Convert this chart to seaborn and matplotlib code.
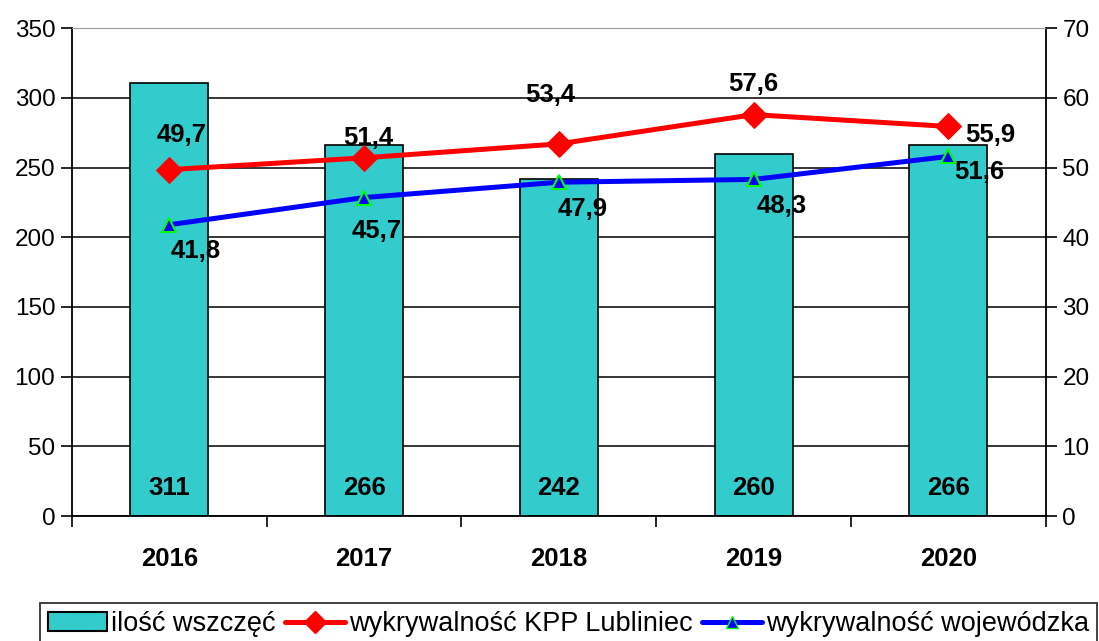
import numpy as np
import pandas as pd
import seaborn as sns
import matplotlib
import matplotlib.pyplot as plt
from matplotlib.ticker import FixedLocator

matplotlib.use("Agg")

years = ['2016', '2017', '2018', '2019', '2020']
wszczecia = [311, 266, 242, 260, 266]
kpp_lubliniec = [49.7, 51.4, 53.4, 57.6, 55.9]
wojewodzka = [41.8, 45.7, 47.9, 48.3, 51.6]

sns.set_style("white")
plt.rcParams['font.family'] = ['Liberation Sans', 'DejaVu Sans']
plt.rcParams['text.color'] = 'black'
plt.rcParams['xtick.color'] = 'black'
plt.rcParams['ytick.color'] = 'black'

fig = plt.figure(figsize=(10.99, 6.41), dpi=100)
ax = fig.add_axes([0.0655, 0.195, 0.886, 0.761])

df = pd.DataFrame({'rok': years, 'ilosc': wszczecia})
sns.barplot(data=df, x='rok', y='ilosc', ax=ax, color='#33CCCC', saturation=1,
            width=0.40, edgecolor='black', linewidth=1.2, zorder=2)

ax.set_ylim(0, 350)
ax.set_xlim(-0.5, 4.5)
ax.set_yticks(range(0, 351, 50))
ax.yaxis.grid(True, color='black', linewidth=1.1, zorder=0)
ax.set_axisbelow(True)
ax.set_xlabel('')
ax.set_ylabel('')
for s in ['left', 'bottom', 'right']:
    ax.spines[s].set_color('black')
    ax.spines[s].set_linewidth(1.3)
ax.spines['top'].set_color('#999999')
ax.tick_params(axis='y', direction='out', length=8, width=1.2, labelsize=17.5, left=True,
               colors='black', pad=4)
ax.tick_params(axis='x', which='major', length=0, labelsize=18.5, pad=22)
ax.xaxis.set_minor_locator(FixedLocator(np.arange(-0.5, 4.6, 1)))
ax.tick_params(axis='x', which='minor', direction='out', length=8, width=1.2, bottom=True)
for lbl in ax.get_xticklabels():
    lbl.set_fontweight('bold')

# bar values near the bottom
for i, v in enumerate(wszczecia):
    ax.text(i, 20, str(v), ha='center', va='center', fontsize=18.5, fontweight='bold', zorder=5)

ax2 = ax.twinx()
x = np.arange(len(years))
sns.lineplot(x=x, y=kpp_lubliniec, ax=ax2, color='red', linewidth=3.6, marker='D',
             markersize=13, markeredgecolor='red', markerfacecolor='red', zorder=4)
sns.lineplot(x=x, y=wojewodzka, ax=ax2, color='blue', linewidth=3.6, marker='^',
             markersize=10, markeredgecolor='#00FF00', markeredgewidth=1.5,
             markerfacecolor='blue', zorder=4)
ax2.set_ylim(0, 70)
ax2.set_xlim(-0.5, 4.5)
ax2.set_yticks(range(0, 71, 10))
ax2.tick_params(axis='y', direction='out', length=8, width=1.2, labelsize=17.5, right=True,
                colors='black', pad=4)
ax2.grid(False)
for s in ax2.spines.values():
    s.set_visible(False)

red_off = [(9, 25), (3, 14), (-6, 35), (0, 22), (30, -6.5)]
blue_off = [(19, -19), (9, -24), (17, -19), (20, -19), (22, -11)]
for i, v in enumerate(kpp_lubliniec):
    ax2.annotate(f'{v:.1f}'.replace('.', ','), (i, v), xytext=red_off[i], textcoords='offset points',
                 ha='center', va='center', fontsize=18.5, fontweight='bold', zorder=6)
for i, v in enumerate(wojewodzka):
    ax2.annotate(f'{v:.1f}'.replace('.', ','), (i, v), xytext=blue_off[i], textcoords='offset points',
                 ha='center', va='center', fontsize=18.5, fontweight='bold', zorder=6)

handles = [
    matplotlib.patches.Patch(facecolor='#33CCCC', edgecolor='black', linewidth=1.5),
    matplotlib.lines.Line2D([], [], color='red', linewidth=3.6, marker='D', markersize=11),
    matplotlib.lines.Line2D([], [], color='blue', linewidth=3.6, marker='^', markersize=8,
                            markeredgecolor='#00FF00', markerfacecolor='blue'),
]
labels = ['ilość wszczęć', 'wykrywalność KPP Lubliniec', 'wykrywalność wojewódzka']
leg = fig.legend(handles, labels, loc='upper left', bbox_to_anchor=(0.036, 0.059), ncol=3,
                 fontsize=19.5, frameon=True, fancybox=False, edgecolor='black',
                 handlelength=2.2, handletextpad=0.15, columnspacing=0.35, borderpad=0.3,
                 borderaxespad=0)
leg.get_frame().set_linewidth(1.3)

fig.savefig('out.png', dpi=100)
